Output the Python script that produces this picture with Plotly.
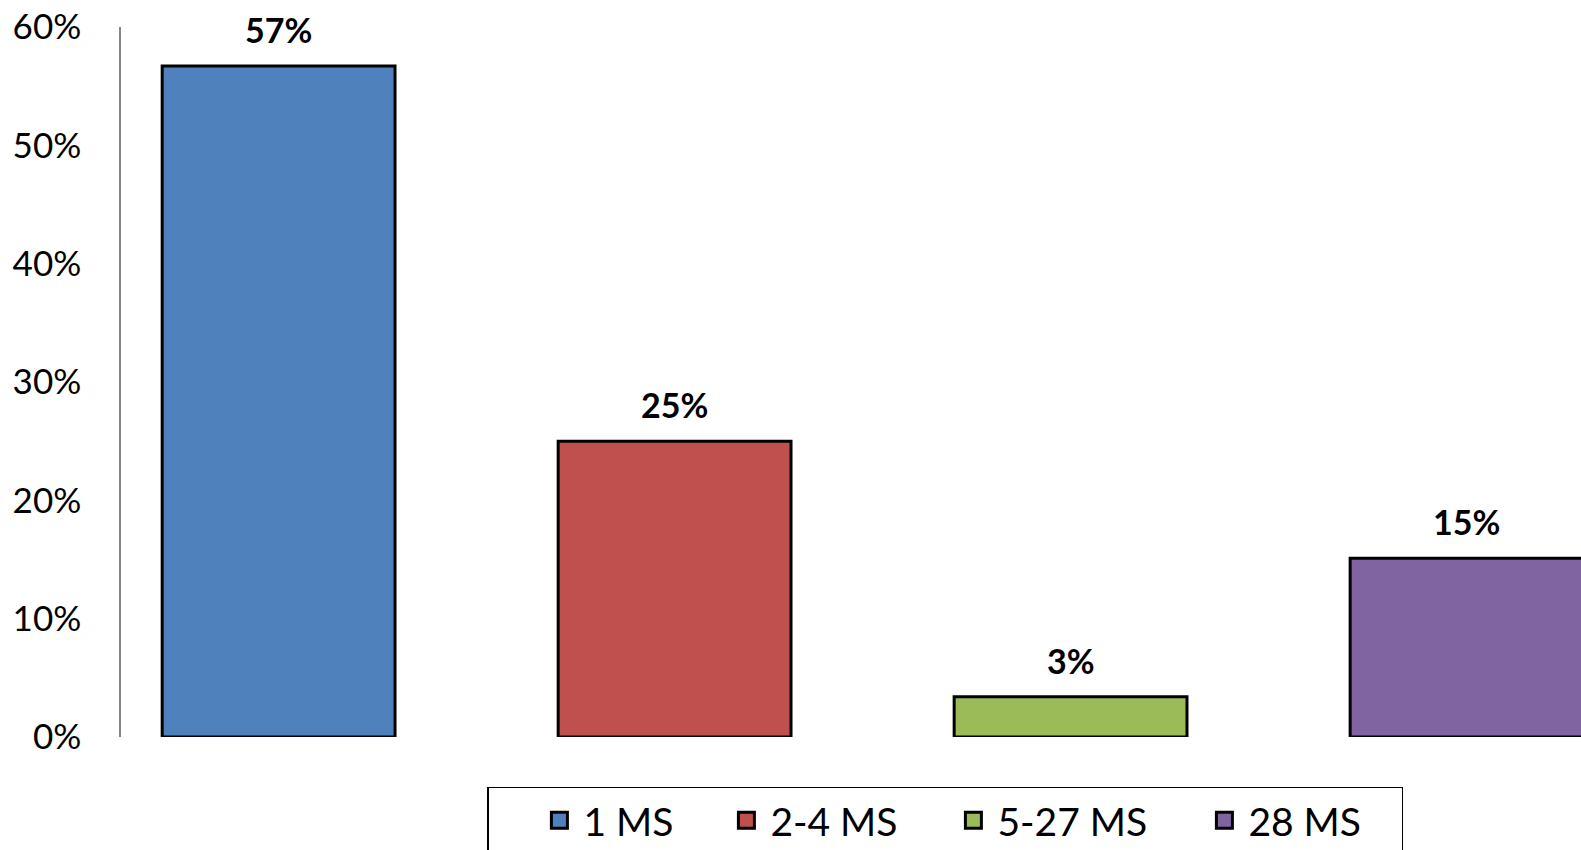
import plotly.graph_objects as go

categories = ["1 MS", "2-4 MS", "5-27 MS", "28 MS"]
values = [56.7, 25.0, 3.4, 15.1]
labels = ["57%", "25%", "3%", "15%"]
colors = ["#4F81BD", "#C0504D", "#9BBB59", "#8064A2"]
ytick_vals = [0, 10, 20, 30, 40, 50, 60]
ytick_text = ["0%", "10%", "20%", "30%", "40%", "50%", "60%"]
legend_widths = [134, 174, 198, 148]

fig = go.Figure()
fig.add_trace(go.Bar(
    x=categories, y=values, width=0.588,
    marker=dict(color=colors, line=dict(color="black", width=3)),
    showlegend=False, hoverinfo="skip",
))
for c, col, lw in zip(categories, colors, legend_widths):
    fig.add_trace(go.Scatter(
        x=[None], y=[None], mode="markers", name=c, legendwidth=lw,
        marker=dict(symbol="square", size=16, color=col, line=dict(color="black", width=3)),
    ))
for c, v, t in zip(categories, values, labels):
    fig.add_annotation(x=c, y=v, text="<b>%s</b>" % t, showarrow=False,
                       yanchor="bottom", yshift=14,
                       font=dict(family="Lato", size=34, color="black"))

fig.update_layout(
    width=1581, height=850,
    margin=dict(l=121, r=0, t=27, b=113, autoexpand=False),
    paper_bgcolor="white", plot_bgcolor="white",
    font=dict(family="Lato", color="black"),
    xaxis=dict(type="category", range=[-0.398, 3.289], showticklabels=False,
               showline=False, showgrid=False, zeroline=False, ticks=""),
    yaxis=dict(range=[0, 60], tickmode="array", tickvals=ytick_vals, ticktext=ytick_text,
               showgrid=False, zeroline=False, showline=True, linecolor="#868686",
               linewidth=1.5, ticks="", ticklabelstandoff=31,
               tickfont=dict(family="Lato", size=35, color="black")),
    legend=dict(orientation="h", x=0.5644, xanchor="center", y=-0.0704, yanchor="top",
                bordercolor="black", borderwidth=1.5, bgcolor="white",
                font=dict(family="Lato", size=39, color="black"),
                itemwidth=38,
                title=dict(text="\u00a0" * 4, side="left", font=dict(family="Lato", size=36)),
                itemclick=False),
)
fig.write_html("out.html")
